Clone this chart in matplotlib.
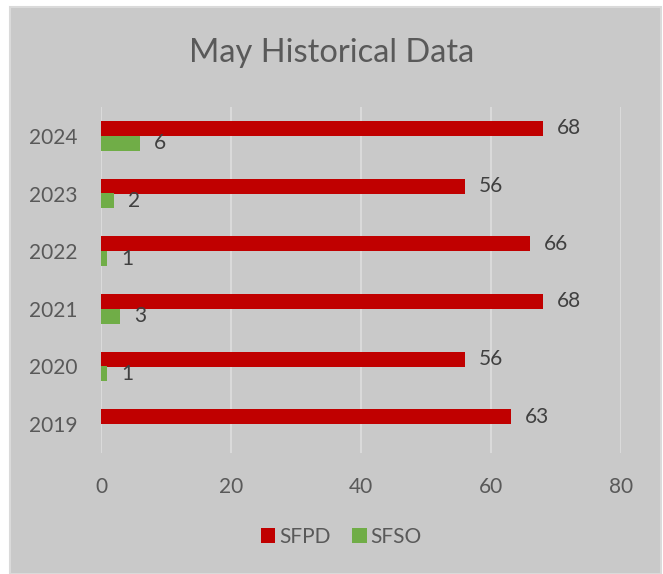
import numpy as np
import matplotlib.pyplot as plt
from matplotlib.patches import Rectangle

# data
years = ['2019', '2020', '2021', '2022', '2023', '2024']
sfpd = [63, 56, 68, 66, 56, 68]
sfso = [0, 1, 3, 1, 2, 6]
ticks = [0, 20, 40, 60, 80]

txt = '#595959'
bg = '#c9c9c9'
plt.rcParams['font.family'] = ['Lato', 'DejaVu Sans']

fig = plt.figure(figsize=(6.63, 5.74), dpi=100)
fig.patch.set_facecolor('white')
W, H = 663, 574
# gray chart area with a light border
fig.patches.append(Rectangle((10 / W, 0), 651 / W, 567 / H, transform=fig.transFigure,
                             facecolor=bg, edgecolor='#dadada', linewidth=1.5, zorder=-5))

ax = fig.add_axes([101 / W, 1 - 453 / H, 520 / W, 346 / H])
ax.set_facecolor('none')

y = np.arange(len(years))
h = 0.26
ax.barh(y + h / 2, sfpd, height=h, color='#c00000', label='SFPD', zorder=3)
ax.barh(y - h / 2, sfso, height=h, color='#70ad47', label='SFSO', zorder=3)

for i in range(len(years)):
    ax.annotate(str(sfpd[i]), (sfpd[i], y[i] + h / 2), xytext=(10, 0), textcoords='offset points',
                va='center', ha='left', fontsize=15, color='#404040')
    if sfso[i] > 0:
        ax.annotate(str(sfso[i]), (sfso[i], y[i] - h / 2), xytext=(10, 0), textcoords='offset points',
                    va='center', ha='left', fontsize=15, color='#404040')

ax.set_xlim(0, 80)
ax.set_ylim(-0.5, 5.5)
ax.set_xticks(ticks)
ax.set_yticks(y)
ax.set_yticklabels(years)
ax.tick_params(length=0, labelsize=15, colors=txt, pad=17)
ax.tick_params(axis='y', pad=17)
ax.grid(axis='x', color='#dadada', linewidth=1.5, zorder=0)
for s in ax.spines.values():
    s.set_visible(False)

fig.text(0.5, 1 - 53 / H, 'May Historical Data', ha='center', va='center', fontsize=23.5, color=txt)

leg = fig.legend(loc='center', bbox_to_anchor=(0.515, 1 - 537 / H), ncol=2, frameon=False,
                 fontsize=15, handlelength=0.7, handleheight=0.7, handletextpad=0.2,
                 columnspacing=1.0, labelcolor=txt)

fig.savefig('out.png', dpi=100, facecolor=fig.get_facecolor())
